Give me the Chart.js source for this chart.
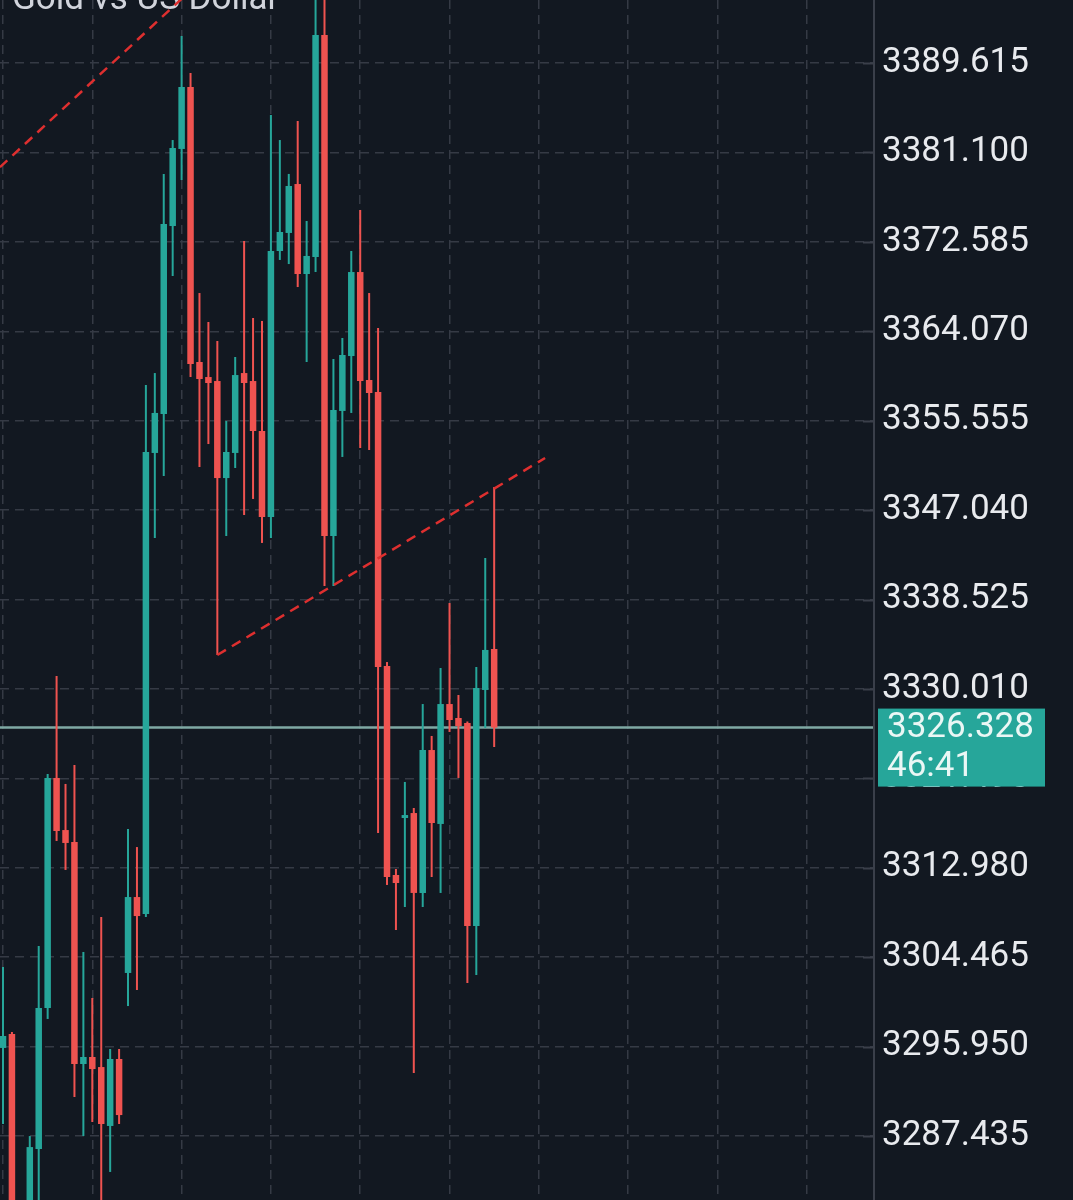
<!DOCTYPE html>
<html>
<head>
<meta charset="utf-8">
<title>Gold vs US Dollar</title>
<script src="https://cdn.jsdelivr.net/npm/chart.js@4.4.1/dist/chart.umd.min.js"></script>
<style>
  html, body { margin: 0; padding: 0; background: #121821; }
  #wrap { position: relative; width: 1073px; height: 1200px; }
</style>
</head>
<body>
<div id="wrap"><canvas id="goldChart"></canvas></div>
<script>
// --- Candle data (one entry per bar, left to right) ---
const opens = [
  3295.82, 3297.15, 3274.00, 3278.60, 3286.20, 3299.62, 3321.53, 3316.57, 3315.43, 3294.29,
  3294.96, 3294.00, 3288.39, 3294.77, 3302.96, 3310.19, 3308.58, 3352.48, 3356.19, 3374.09,
  3381.43, 3387.33, 3361.14, 3359.71, 3359.33, 3350.09, 3352.48, 3360.09, 3359.33, 3354.57,
  3346.38, 3371.71, 3373.43, 3378.09, 3369.52, 3371.14, 3392.28, 3344.57, 3356.48, 3361.71,
  3369.71, 3359.43, 3358.29, 3332.19, 3312.29, 3317.72, 3318.19, 3310.58, 3324.19, 3317.15,
  3328.57, 3327.24, 3326.76, 3307.43, 3329.91, 3333.81
];
const highs = [
  3303.53, 3297.34, 3279.50, 3287.43, 3305.53, 3321.91, 3331.24, 3320.96, 3322.77, 3304.96,
  3300.58, 3308.29, 3295.72, 3295.72, 3316.67, 3314.95, 3358.95, 3360.09, 3379.05, 3382.28,
  3392.19, 3388.66, 3367.71, 3364.95, 3363.14, 3355.52, 3361.62, 3372.67, 3365.33, 3365.05,
  3384.66, 3382.28, 3379.05, 3384.09, 3374.57, 3397.50, 3398.00, 3361.43, 3363.43, 3371.71,
  3375.62, 3367.71, 3364.38, 3332.57, 3312.86, 3321.15, 3318.67, 3328.57, 3325.53, 3332.00,
  3338.19, 3329.43, 3326.90, 3332.10, 3342.48, 3349.24
];
const lows = [
  3288.58, 3276.50, 3272.00, 3277.00, 3280.00, 3298.58, 3315.53, 3312.77, 3291.15, 3287.43,
  3288.77, 3281.00, 3284.01, 3288.58, 3299.81, 3301.34, 3308.30, 3344.38, 3350.29, 3369.33,
  3378.47, 3359.71, 3351.14, 3353.33, 3333.24, 3344.57, 3351.05, 3346.57, 3348.10, 3343.91,
  3344.38, 3370.86, 3370.47, 3368.28, 3361.14, 3369.71, 3339.81, 3339.81, 3352.10, 3356.29,
  3352.95, 3352.76, 3316.29, 3311.34, 3307.05, 3309.24, 3293.43, 3309.24, 3312.10, 3310.58,
  3325.91, 3321.53, 3302.00, 3302.77, 3326.29, 3324.48
];
const closes = [
  3296.96, 3278.48, 3278.00, 3286.38, 3299.62, 3321.53, 3316.48, 3315.34, 3294.29, 3294.96,
  3293.81, 3288.58, 3294.77, 3289.43, 3310.19, 3308.38, 3352.57, 3356.29, 3374.28, 3381.52,
  3387.33, 3360.95, 3359.52, 3359.14, 3350.09, 3352.57, 3359.90, 3359.14, 3354.57, 3346.38,
  3371.71, 3373.52, 3377.90, 3369.52, 3371.24, 3392.28, 3344.57, 3356.57, 3361.81, 3369.71,
  3359.33, 3358.19, 3332.10, 3312.10, 3311.53, 3318.00, 3310.58, 3324.19, 3317.24, 3328.57,
  3327.05, 3326.48, 3307.43, 3330.10, 3333.72, 3326.328
];

// price axis labels
const yTickValues = [
  3287.435, 3295.950, 3304.465, 3312.980, 3321.495, 3330.010, 3338.525,
  3347.040, 3355.555, 3364.070, 3372.585, 3381.100, 3389.615
];
const xGridIdx = [0, 10, 20, 30, 40, 50, 60, 70, 80, 90];

// drawn trend lines: [barIndex, price]
const trendUpper = [[-0.34, 3379.70], [22, 3397.30]];
const trendLower = [[24, 3333.24], [60.7, 3352.00]];

const lastPrice = 3326.328;
const countdown = '46:41';
const titleText = 'Gold vs US Dollar';

// --- Colours ---
const UP = '#26a69a';
const DOWN = '#ef5350';
const GRID = '#353a45';
const AXIS = '#3a3f4a';
const LABEL = '#e8eaee';
const TREND = '#de2f2f';
const LAST_LINE = '#7fa9a4';

const candleColors = opens.map((o, i) => closes[i] >= o ? UP : DOWN);

const overlay = {
    id: 'overlay',
    beforeDatasetsDraw(chart) {
        const { ctx } = chart;
        ctx.save();
        ctx.font = '35px Roboto';
        ctx.fillStyle = '#d1d4dc';
        ctx.textBaseline = 'alphabetic';
        ctx.fillText(titleText, 12, 9);
        ctx.restore();
    },
    afterDraw(chart) {
        const { ctx, chartArea, scales: { y } } = chart;
        const right = chartArea.right;
        ctx.save();
        // price axis line + small tick marks
        ctx.strokeStyle = AXIS;
        ctx.lineWidth = 2;
        ctx.beginPath();
        ctx.moveTo(right + 1, 0);
        ctx.lineTo(right + 1, chart.height);
        y.ticks.forEach(t => {
            const py = Math.round(y.getPixelForValue(t.value)) + 0.5;
            ctx.moveTo(right - 10, py);
            ctx.lineTo(right, py);
        });
        ctx.stroke();

        // last price tag
        const py = y.getPixelForValue(lastPrice);
        ctx.fillStyle = UP;
        ctx.fillRect(right + 5, py - 19, 167, 78);
        ctx.fillStyle = '#eaf7f5';
        ctx.font = '35px Roboto';
        ctx.textBaseline = 'middle';
        ctx.textAlign = 'left';
        ctx.fillText(lastPrice.toFixed(3), right + 14, py + 1);
        ctx.fillText(countdown, right + 14, py + 40);
        ctx.restore();
    }
};

const toXY = pts => pts.map(([x, y]) => ({ x, y }));

document.addEventListener('DOMContentLoaded', () => {
    const ctx = document.getElementById('goldChart').getContext('2d');
    new Chart(ctx, {
        type: 'bar',
        data: {
            datasets: [
                {
                    type: 'line', label: 'trend upper', data: toXY(trendUpper),
                    borderColor: TREND, borderWidth: 2.5, borderDash: [10, 7],
                    pointRadius: 0, clip: 0, order: 0
                },
                {
                    type: 'line', label: 'trend lower', data: toXY(trendLower),
                    borderColor: TREND, borderWidth: 2.5, borderDash: [10, 7],
                    pointRadius: 0, clip: 0, order: 0
                },
                {
                    label: 'body',
                    data: opens.map((o, i) => ({ x: i, y: [o, closes[i]] })),
                    backgroundColor: candleColors,
                    grouped: false, barPercentage: 1, categoryPercentage: 1,
                    maxBarThickness: 6.5, inflateAmount: 0, clip: 0, order: 1
                },
                {
                    label: 'wick',
                    data: lows.map((l, i) => ({ x: i, y: [l, highs[i]] })),
                    backgroundColor: candleColors,
                    grouped: false, barPercentage: 1, categoryPercentage: 1,
                    maxBarThickness: 2, inflateAmount: 0, clip: 0, order: 2
                },
                {
                    type: 'line', label: 'last',
                    data: [{ x: -1, y: lastPrice }, { x: 99, y: lastPrice }],
                    borderColor: LAST_LINE, borderWidth: 2.5,
                    pointRadius: 0, clip: 0, order: 3
                }
            ]
        },
        options: {
            responsive: true,
            maintainAspectRatio: false,
            animation: false,
            events: [],
            layout: { padding: 0 },
            plugins: { legend: { display: false }, tooltip: { enabled: false }, title: { display: false } },
            scales: {
                x: {
                    type: 'linear', min: -0.336, max: 97.42, offset: false,
                    grid: { color: GRID, lineWidth: 1.5, drawTicks: false, offset: false },
                    border: { display: false, dash: [9, 6] },
                    ticks: { display: false },
                    afterBuildTicks: s => { s.ticks = xGridIdx.map(v => ({ value: v })); },
                    afterFit: s => { s.height = 0; s.paddingLeft = 0; s.paddingRight = 0; }
                },
                y: {
                    type: 'linear', position: 'right', min: 3281.34, max: 3395.615, beginAtZero: false,
                    grid: { color: GRID, lineWidth: 1.5, drawTicks: false },
                    border: { display: false, dash: [9, 6] },
                    ticks: {
                        color: LABEL, padding: 9, autoSkip: false,
                        font: { family: 'Roboto', size: 35 },
                        callback: v => Number(v).toFixed(3)
                    },
                    afterBuildTicks: s => { s.ticks = yTickValues.map(v => ({ value: v })); },
                    afterFit: s => { s.width = 200; s.paddingTop = 0; s.paddingBottom = 0; }
                }
            }
        },
        plugins: [overlay]
    });
});
</script>
</body>
</html>
